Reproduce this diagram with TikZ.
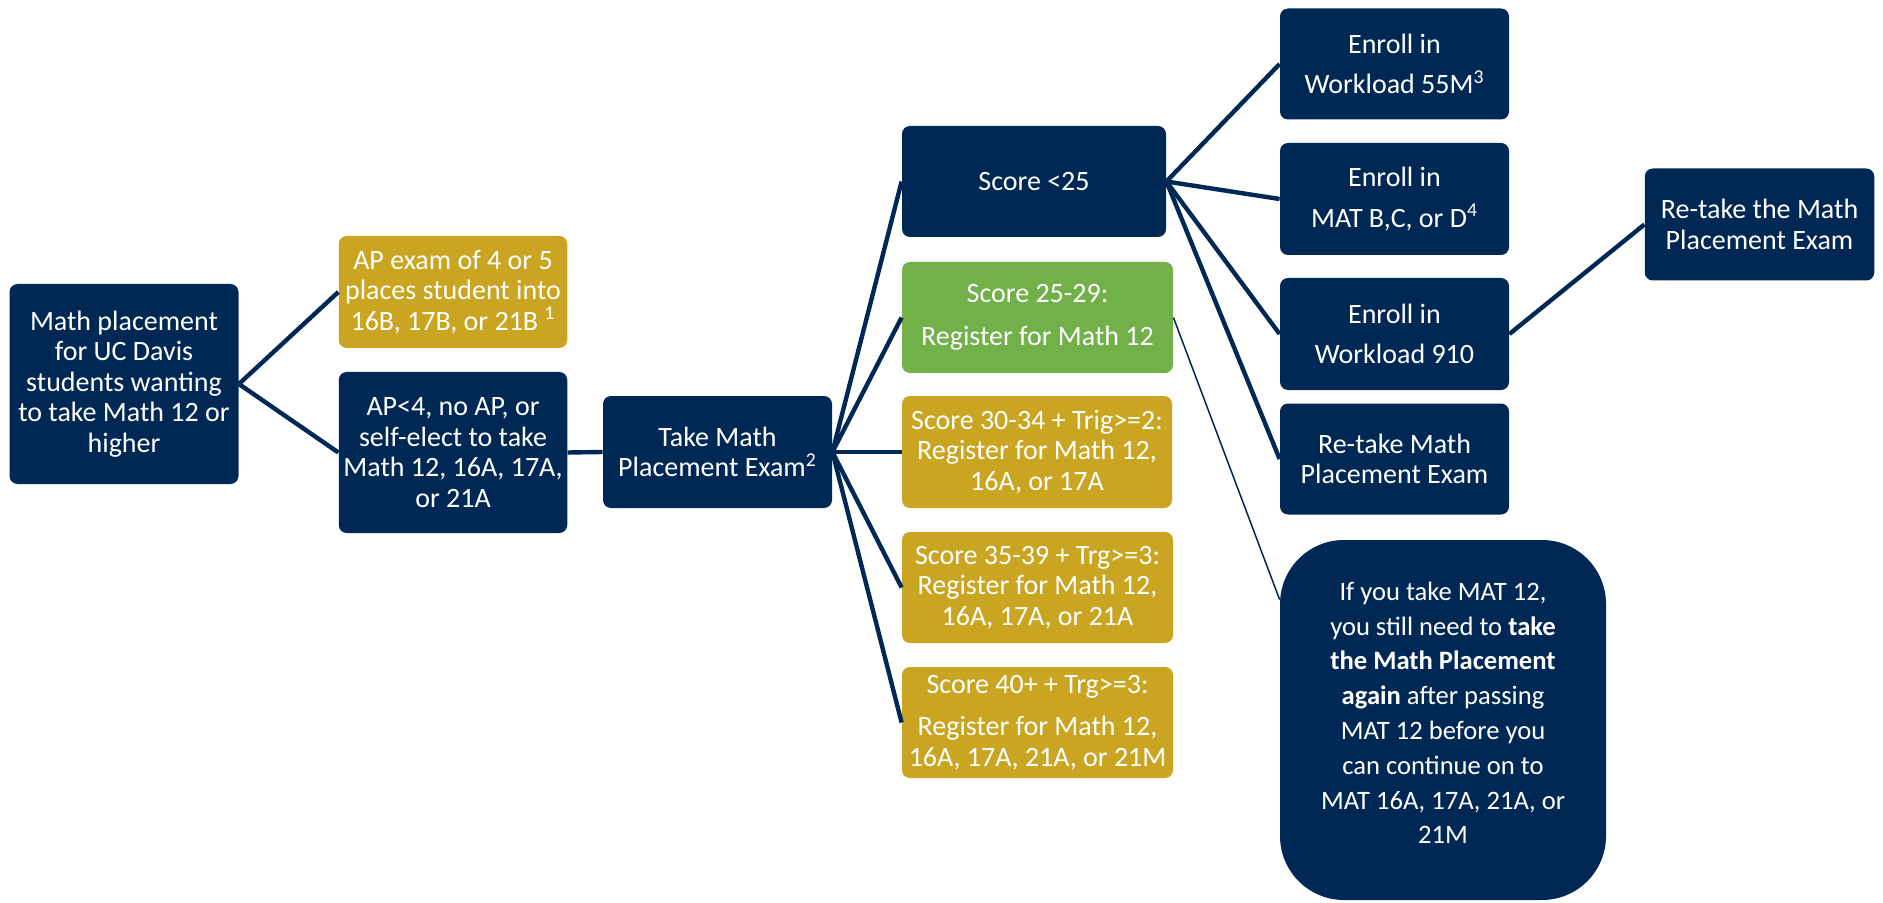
\documentclass[tikz,border=0pt]{standalone}
\usepackage{fontspec}
\setmainfont{Carlito}
\usetikzlibrary{calc}
\definecolor{davisnavy}{HTML}{002855}
\definecolor{davisgold}{HTML}{C9A521}
\definecolor{davisgreen}{HTML}{72B04A}

\begin{document}
\begin{tikzpicture}[x=0.5pt,y=-0.5pt,
  box/.style={rounded corners=4pt, fill=#1, text=white, align=center,
    inner sep=0pt, font=\fontsize{14}{15.25}\selectfont},
  box/.default=davisnavy,
  wh/.style 2 args={minimum width=#1*0.5pt, minimum height=#2*0.5pt},
  link/.style={draw=davisnavy, line width=2.2pt},
  thinlink/.style={draw=davisnavy, line width=0.75pt}]

\fill[white] (0,0) rectangle (1883,903);
\useasboundingbox (0,0) rectangle (1883,903);

% first column
\node[box, wh={229}{200}] (root) at (124,384)
  {Math placement\\for UC Davis\\students wanting\\to take Math 12 or\\higher};

% second column
\node[box=davisgold, wh={228.5}{112}] (ap) at (453,292)
  {AP exam of 4 or 5\\places student into\\16B, 17B, or 21B \textsuperscript{1}};
\node[box, wh={228.5}{161}] (noap) at (453,452.5)
  {AP<4, no AP, or\\self-elect to take\\Math 12, 16A, 17A,\\or 21A};

% placement exam
\node[box, wh={229}{112}] (exam) at (717.5,452)
  {Take Math\\Placement Exam\textsuperscript{2}};

% score outcomes
\node[box, wh={264}{111}] (s25) at (1034,181.5) {Score <25};
\node[box=davisgreen, wh={271}{111}] (s2529) at (1037.5,317.5)
  {Score 25-29:\\[6pt]Register for Math 12};
\node[box=davisgold, wh={270}{112}] (s3034) at (1037,452)
  {Score 30-34 + Trig>=2:\\Register for Math 12,\\16A, or 17A};
\node[box=davisgold, wh={271}{111}] (s3539) at (1037.5,587.5)
  {Score 35-39 + Trg>=3:\\Register for Math 12,\\16A, 17A, or 21A};
\node[box=davisgold, wh={271}{111}] (s40) at (1037.5,722.5)
  {Score 40+ + Trg>=3:\\[6pt]Register for Math 12,\\16A, 17A, 21A, or 21M};

% options below 25
\node[box, wh={229}{111}] (e55) at (1394.5,64)
  {Enroll in\\[5pt]Workload 55M\textsuperscript{3}};
\node[box, wh={229}{112}] (eB) at (1394.5,199)
  {Enroll in\\[5pt]MAT B,C, or D\textsuperscript{4}};
\node[box, wh={229}{112}] (e910) at (1394.5,334)
  {Enroll in\\[5pt]Workload 910};
\node[box, wh={229}{111}] (retake) at (1394.5,459)
  {Re-take Math\\Placement Exam};
\node[box, wh={229.5}{112}] (retake2) at (1759.5,224.5)
  {Re-take the Math\\Placement Exam};

% note on Math 12 (trailing strut lifts the text block slightly)
\node[box, rounded corners=32pt, wh={326}{360},
  font=\fontsize{13.3}{17.4}\selectfont] (note) at (1443,720)
  {If you take MAT 12,\\you still need to \textbf{take}\\\textbf{the Math Placement}\\
   \textbf{again} after passing\\MAT 12 before you\\can continue on to\\
   MAT 16A, 17A, 21A, or\\21M\\[-15.5pt]\strut};
\coordinate (notein) at ($(note.north west)+(0,60)$);

% connectors
\draw[link] (root.east) -- (ap.west);
\draw[link] (root.east) -- (noap.west);
\draw[link] (noap.east) -- (exam.west);
\foreach \s in {s25,s2529,s3034,s3539,s40}
  \draw[link] (exam.east) -- (\s.west);
\foreach \e in {e55,eB,e910,retake}
  \draw[link] (s25.east) -- (\e.west);
\draw[link] (e910.east) -- (retake2.west);
\draw[thinlink] (s2529.east) -- (notein);

\end{tikzpicture}
\end{document}
